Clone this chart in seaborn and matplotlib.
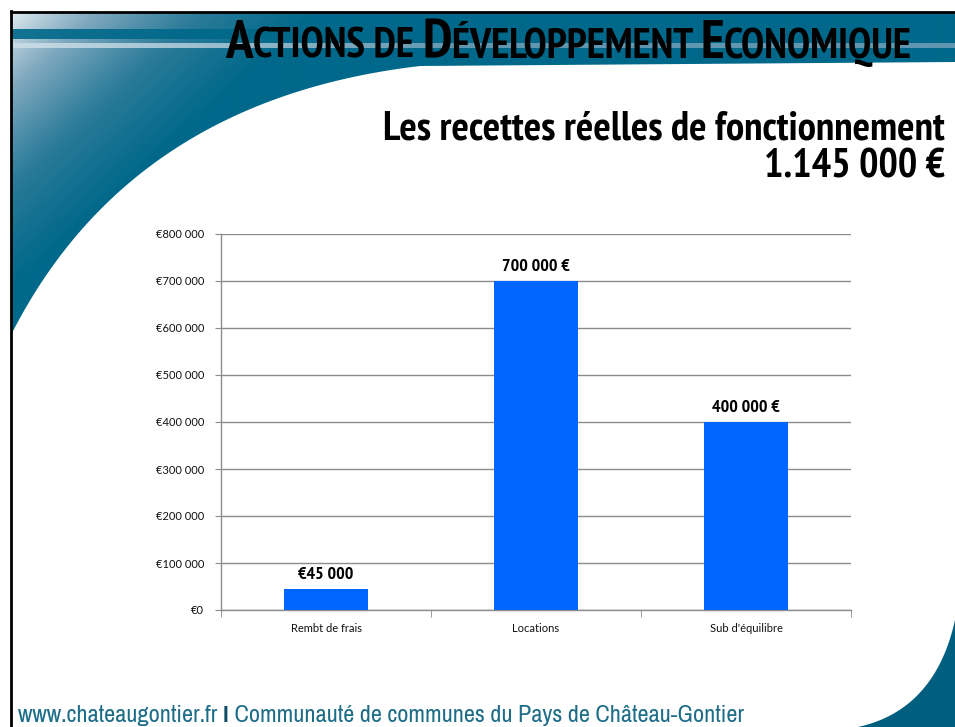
# Les recettes réelles de fonctionnement - actions de développement économique
import numpy as np
import pandas as pd
import matplotlib
matplotlib.use("Agg")
import matplotlib.pyplot as plt
import seaborn as sns
from matplotlib import font_manager
from matplotlib.font_manager import FontProperties
from matplotlib.patches import Polygon
from matplotlib.colors import LinearSegmentedColormap

# ==========================================================
# Data
# ==========================================================
categories = ["Rembt de frais", "Locations", "Sub d'équilibre"]
values = [45000, 700000, 400000]
value_labels = ["€45 000", "700 000 €", "400 000 €"]
y_ticks = [0, 100000, 200000, 300000, 400000, 500000, 600000, 700000, 800000]
y_tick_labels = ["€0", "€100 000", "€200 000", "€300 000", "€400 000",
                 "€500 000", "€600 000", "€700 000", "€800 000"]

title_parts = [("A", True), ("CTIONS DE ", False), ("D", True),
               ("ÉVELOPPEMENT ", False), ("E", True), ("CONOMIQUE", False)]
subtitle = "Les recettes réelles de fonctionnement"
total_text = "1.145 000 €"
footer_parts = [("www.chateaugontier.fr ", "#1d6c88", False),
                ("I", "#0b4b63", True),
                (" Communauté de communes du Pays de Château-Gontier", "#1d6c88", False)]

df = pd.DataFrame({"categorie": categories, "montant": values})

# ==========================================================
# Fonts: look for a narrow / condensed face (Arial Narrow look)
# ==========================================================
def pick_condensed(bold):
    found = []
    for f in font_manager.fontManager.ttflist:
        tag = (f.name + " " + str(f.stretch) + " " + f.fname.split("/")[-1]).lower()
        if not any(k in tag for k in ("narrow", "condensed")):
            continue
        if any(k in tag for k in ("extra", "ultra", "mono", "serif")) or f.style != "normal":
            continue
        w = f.weight if isinstance(f.weight, int) else {"bold": 700, "normal": 400, "regular": 400}.get(str(f.weight).lower(), 400)
        if (w == 700) != bold or w not in (400, 700):
            continue
        rank = 0 if "narrow" in tag else (2 if "semi" in tag else 1)
        found.append((rank, f.fname))
    if found:
        return FontProperties(fname=sorted(found)[0][1])
    return FontProperties(family="Liberation Sans", weight="bold" if bold else "normal")

fp_bold = pick_condensed(True)
fp_reg = pick_condensed(False)

def fprop(base, size):
    p = base.copy()
    p.set_size(size)
    return p

W, H = 955, 727
teal = "#00688a"
dark_teal = "#005f7f"
CAP = 0.714  # cap height / em

fig = plt.figure(figsize=(W / 100, H / 100), dpi=100)
fig.patch.set_facecolor("white")
renderer = fig.canvas.get_renderer()

# ==========================================================
# Slide background (teal band, curve, corner)
# ==========================================================
bg = fig.add_axes([0, 0, 1, 1], zorder=0)
bg.set_xlim(0, W)
bg.set_ylim(H, 0)
bg.axis("off")

def bezier(p0, p1, p2, n=60):
    t = np.linspace(0, 1, n)[:, None]
    return (1 - t) ** 2 * np.array(p0) + 2 * (1 - t) * t * np.array(p1) + t ** 2 * np.array(p2)

curve = bezier((11, 335), (130, 100), (420, 66))
band_pts = np.vstack([[[11, 12], [W, 12], [W, 62]], [[420, 66]], curve[::-1][1:]])
band = Polygon(band_pts, closed=True, facecolor="none", edgecolor="none")
bg.add_patch(band)

X, Y = np.meshgrid(np.arange(W), np.arange(H))
t = np.clip(((X - 12) * 0.95 + (Y - 12) * 1.05) / 290, 0, 1) ** 0.85
grad_cmap = LinearSegmentedColormap.from_list("band", ["#e4edf2", "#7fa9bf", "#2b7b99", teal])
im = bg.imshow(t, cmap=grad_cmap, extent=(0, W, H, 0), origin="upper",
               aspect="auto", zorder=1, interpolation="bilinear")
im.set_clip_path(band)

# stripes in the top band
bg.fill_between([11, W], 29, 39, color=teal, alpha=0.9, zorder=2, lw=0)
stripe_x = np.arange(11, W)
stripe = np.tile(np.clip((stripe_x - 11) / 450, 0, 1), (2, 1))
stripe_cmap = LinearSegmentedColormap.from_list("stripe", ["#c9dce6", "#5f97b0"])
bg.imshow(stripe, cmap=stripe_cmap, extent=(11, W, 48, 43), aspect="auto", zorder=2)

# bottom right corner
corner = bezier((W, 620), (935, 710), (858, H))
bg.add_patch(Polygon(np.vstack([corner, [[W, H]]]), closed=True,
                     facecolor=dark_teal, edgecolor="none", zorder=1))

# black frame (left + top)
bg.plot([11, 11], [11, H], color="black", lw=2, zorder=3)
bg.plot([11, W], [12, 12], color="black", lw=2, zorder=3)

# ==========================================================
# Titles
# ==========================================================
def px_to_pt(cap_px):
    return cap_px / CAP * 72 / 100

def chain(parts, x0, y, target_w, blend=1.0):
    # blend=1 -> fit width exactly, lower -> keep closer to the given (cap height) size
    texts = [bg.text(x0, y, s, va="baseline", ha="left", zorder=5, color=c,
                     fontproperties=fprop(base, size)) for s, base, size, c in parts]
    widths = [tx.get_window_extent(renderer).width for tx in texts]
    k = (target_w / sum(widths)) ** blend
    x = x0
    for tx in texts:
        tx.set_fontsize(tx.get_fontsize() * k)
        tx.set_x(x)
        x += tx.get_window_extent(renderer).width
    return texts

chain([(s, fp_bold, px_to_pt(32 if big else 24.4), "black") for s, big in title_parts],
      225, 58, 735, blend=0.75)

size_sub = px_to_pt(29)
sub = bg.text(945, 139, subtitle, ha="right", va="baseline", color="black", zorder=5,
              fontproperties=fprop(fp_bold, size_sub))
size_sub *= (562 / sub.get_window_extent(renderer).width) ** 0.75
sub.set_fontsize(size_sub)
bg.text(945, 178, total_text, ha="right", va="baseline", color="black", zorder=5,
        fontproperties=fprop(fp_bold, size_sub))

chain([(s, fp_bold if b else fp_reg, 14, c) for s, c, b in footer_parts], 18, 722, 724)

# ==========================================================
# Bar chart
# ==========================================================
ax = fig.add_axes([221 / W, 117 / H, 630 / W, 376 / H], zorder=2)
ax.set_facecolor("none")
sns.barplot(data=df, x="categorie", y="montant", color="#0066ff", saturation=1,
            width=0.4, ax=ax, zorder=3)

ax.set_xlim(-0.5, 2.5)
ax.set_ylim(0, 800000)
ax.set_yticks(y_ticks, y_tick_labels)
ax.set_xlabel("")
ax.set_ylabel("")
ax.yaxis.grid(True, color="#8c8c8c", lw=1)
ax.set_axisbelow(True)
for side in ["top", "right"]:
    ax.spines[side].set_visible(False)
for side in ["left", "bottom"]:
    ax.spines[side].set_color("#8c8c8c")
    ax.spines[side].set_linewidth(1)

ax.set_xticks([-0.5, 0.5, 1.5, 2.5], minor=True)
ax.tick_params(axis="x", which="major", length=0, pad=9, labelsize=8, labelcolor="#111111")
ax.tick_params(axis="x", which="minor", length=5, color="#8c8c8c")
ax.tick_params(axis="y", length=4, color="#8c8c8c", pad=8, labelsize=8, labelcolor="#111111")
for lab in ax.get_xticklabels() + ax.get_yticklabels():
    lab.set_family("Lato")

ax.bar_label(ax.containers[0], labels=value_labels, padding=4, color="black",
             fontproperties=fprop(fp_bold, 13))

fig.savefig("out.png", dpi=100)
